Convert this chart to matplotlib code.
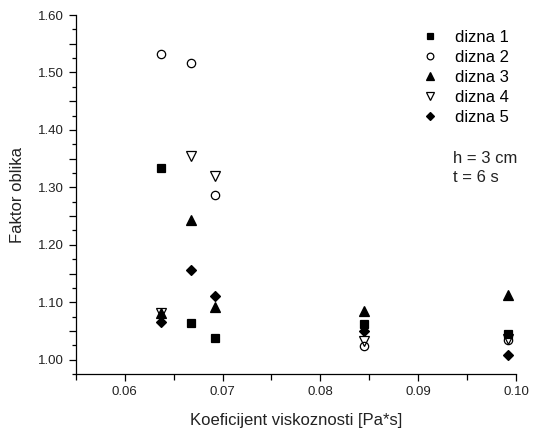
import matplotlib
matplotlib.use("Agg")
import matplotlib.pyplot as plt
from matplotlib.ticker import MultipleLocator, FuncFormatter

plt.rcParams['font.family'] = ['Liberation Sans', 'DejaVu Sans']

# viscosity values (x) and shape factor per nozzle
viskoznost = [0.0637, 0.0668, 0.0692, 0.0845, 0.0992]
dizna_1 = [1.333, 1.064, 1.037, 1.063, 1.045]
dizna_2 = [1.532, 1.516, 1.286, 1.024, 1.035]
dizna_3 = [1.081, 1.243, 1.091, 1.085, 1.112]
dizna_4 = [1.081, 1.355, 1.320, 1.033, 1.036]
dizna_5 = [1.066, 1.157, 1.111, 1.050, 1.008]

serije = [
    ("dizna 1", dizna_1, "s", "k"),
    ("dizna 2", dizna_2, "o", "none"),
    ("dizna 3", dizna_3, "^", "k"),
    ("dizna 4", dizna_4, "v", "none"),
    ("dizna 5", dizna_5, "D", "k"),
]
velicine = {"s": 5.5, "o": 6, "^": 6.5, "v": 6.5, "D": 5.5}

fig = plt.figure(figsize=(5.41, 4.29), dpi=100)
ax = fig.add_axes([0.14, 0.128, 0.814, 0.837])

for naziv, y, m, fc in serije:
    ax.plot(viskoznost, y, linestyle="none", marker=m, markersize=velicine[m],
            markerfacecolor=fc, markeredgecolor="k", markeredgewidth=0.9,
            label=naziv)

ax.set_xlim(0.055, 0.10)
ax.set_ylim(0.975, 1.60)

ax.spines['top'].set_visible(False)
ax.spines['right'].set_visible(False)
for s in ('left', 'bottom'):
    ax.spines[s].set_linewidth(0.9)

ax.xaxis.set_major_locator(MultipleLocator(0.01))
ax.xaxis.set_minor_locator(MultipleLocator(0.005))
ax.xaxis.set_major_formatter(FuncFormatter(lambda v, p: f"{v:.2f}"))

ax.yaxis.set_major_locator(MultipleLocator(0.05))
ax.yaxis.set_minor_locator(MultipleLocator(0.025))
ax.yaxis.set_major_formatter(
    FuncFormatter(lambda v, p: f"{v:.2f}" if abs(round(v * 10) - v * 10) < 1e-6 else ""))

ax.tick_params(axis='both', which='major', direction='out', length=5, width=0.9,
               labelsize=9.5, colors='k', labelcolor='#222222')
ax.tick_params(axis='both', which='minor', direction='out', length=3, width=0.9)
ax.tick_params(axis='x', which='minor', length=4)

ax.set_xlabel("Koeficijent viskoznosti [Pa*s]", fontsize=12, color='#222222', labelpad=11)
ax.set_ylabel("Faktor oblika", fontsize=12, color='#222222', labelpad=9)

ax.legend(loc='upper left', bbox_to_anchor=(0.786, 0.958), frameon=False,
          fontsize=12, numpoints=1, handlelength=1.0, handletextpad=1.0,
          labelspacing=0.3, borderpad=0, borderaxespad=0, markerscale=0.8)

ax.text(0.857, 0.60, "h = 3 cm", transform=ax.transAxes, fontsize=12,
        color='#222222', va='center')
ax.text(0.857, 0.547, "t = 6 s", transform=ax.transAxes, fontsize=12,
        color='#222222', va='center')

fig.savefig("out.png", dpi=100)
